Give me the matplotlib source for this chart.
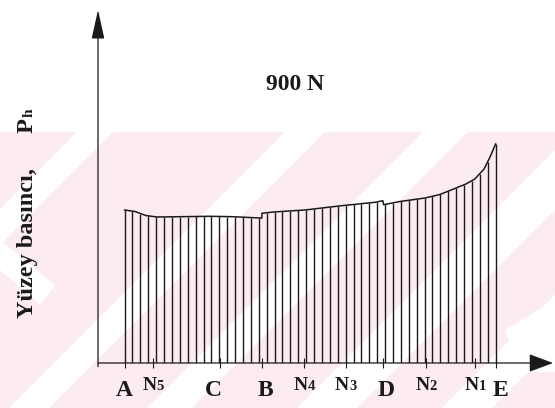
import numpy as np
import matplotlib
matplotlib.use("Agg")
import matplotlib.pyplot as plt
from matplotlib.patches import Polygon, Rectangle

# Positions along the contact (A = 0, E = 100) and labels of the marked points
point_labels = ["A", "N5", "C", "B", "N4", "N3", "D", "N2", "N1", "E"]
point_pos = [0.0, 7.65, 25.7, 37.1, 48.4, 59.6, 69.7, 81.2, 94.4, 100.0]

# Surface pressure profile (relative units) for the 900 N load
profile_x = [0.0, 2.8, 5.7, 8.7, 23.0, 29.2, 36.5, 37.0, 37.0, 40.1, 48.6, 58.5,
             67.5, 69.6, 69.8, 74.2, 81.0, 85.0, 89.0, 92.0, 94.4, 96.9, 98.5, 100.0]
profile_p = [153, 151.5, 147.5, 146, 146.7, 146.3, 145, 145, 149.7, 151, 153, 157.3,
             160.7, 162.3, 158.3, 161.5, 165, 168.5, 174.5, 179, 184, 194, 206, 219]

load_label = "900 N"
y_label = "Yüzey basıncı,"
p_symbol = "P"
p_sub = "h"

W, H = 555, 408
fig = plt.figure(figsize=(W / 100, H / 100), dpi=100)

# Faint diagonal background stripes
bg = fig.add_axes([0, 0, 1, 1], zorder=0)
bg.set_xlim(0, W)
bg.set_ylim(H, 0)
bg.axis("off")
pink = "#fcecef"
top = 132
bg.add_patch(Rectangle((0, top), W, H - top, color=pink, lw=0))
clip = Rectangle((0, top), W, H - top, transform=bg.transData)
for s0, s1 in [(209, 245), (417, 457), (555, 600), (705, 765), (850, 900)]:
    poly = Polygon([(s0 - top, top), (s1 - top, top), (s1 - H, H), (s0 - H, H)],
                   closed=True, color="white", lw=0)
    bg.add_patch(poly)
    poly.set_clip_path(clip)
# left chevron arm and lower-right notch
bg.add_patch(Polygon([(0, 240), (0, 270), (40, 305), (55, 285)], closed=True, color="white", lw=0))
bg.add_patch(Polygon([(505, 330), (555, 300), (555, 372), (520, 372)], closed=True, color="white", lw=0))

# Main axes: origin at (98, 363) px, x arrow tip at 553 px, y arrow tip at 10 px
scale = 3.71
x0px, y0px = 98, 363
ax = fig.add_axes([x0px / W, (H - y0px) / H, (553 - x0px) / W, (y0px - 10) / H], zorder=1)
ax.patch.set_alpha(0)
ax.set_xlim(-(124.6 - x0px) / scale, (553 - 124.6) / scale)
ax.set_ylim(0, y0px - 10)
for sp in ax.spines.values():
    sp.set_visible(False)
ax.set_yticks([])

ink = "#1a1a1a"
# axes with arrowheads
ax.annotate("", xy=(1, 0), xytext=(0, 0), xycoords="axes fraction",
            arrowprops=dict(arrowstyle="-|>,head_length=0.75,head_width=0.28",
                            mutation_scale=20, color=ink, lw=0.9, shrinkA=0, shrinkB=0))
ax.annotate("", xy=(0, 1), xytext=(0, -0.01), xycoords="axes fraction",
            arrowprops=dict(arrowstyle="-|>,head_length=0.9,head_width=0.2",
                            mutation_scale=20, color=ink, lw=0.9, shrinkA=0, shrinkB=0))

# pressure curve and vertical hatching beneath it
ax.plot(profile_x, profile_p, color=ink, lw=1.1, zorder=3)
xs = np.linspace(profile_x[0], profile_x[-1], 48)
ax.vlines(xs, 0, np.interp(xs, profile_x, profile_p), color=ink, lw=1.0, zorder=2)

ax.set_xticks(point_pos)
ax.set_xticklabels([])
ax.tick_params(axis="x", direction="inout", length=7, width=0.8, color=ink)

serif = "Liberation Serif"
label_dx = {"C": -7, "B": 3, "D": 3, "E": 5}
for lab, pos in zip(point_labels, point_pos):
    dx = label_dx.get(lab, 0) * 0.72
    if len(lab) == 1:
        ax.annotate(lab, (pos, 0), xytext=(dx, -24), textcoords="offset points",
                    ha="center", va="baseline", fontsize=17, fontweight="bold",
                    family=serif, color=ink)
    else:
        ax.annotate(lab[0], (pos, 0), xytext=(dx + 2.5, -19.4), textcoords="offset points",
                    ha="right", va="baseline", fontsize=14, fontweight="bold",
                    family=serif, color=ink)
        ax.annotate(lab[1], (pos, 0), xytext=(dx + 2.5, -19.4), textcoords="offset points",
                    ha="left", va="baseline", fontsize=10.5, fontweight="bold",
                    family=serif, color=ink)

# load label
fig.text(295 / W, 1 - 85 / H, load_label, ha="center", va="center", fontsize=17,
         fontweight="bold", family=serif, color=ink)

# rotated y-axis label
fig.text(33 / W, 1 - 318 / H, y_label, rotation=90, rotation_mode="anchor",
         ha="left", va="baseline", fontsize=17.5, fontweight="bold", family=serif, color=ink)
fig.text(33 / W, 1 - 133 / H, p_symbol, rotation=90, rotation_mode="anchor",
         ha="left", va="baseline", fontsize=17.5, fontweight="bold", family=serif, color=ink)
fig.text(33 / W, 1 - 117 / H, p_sub, rotation=90, rotation_mode="anchor",
         ha="left", va="baseline", fontsize=11, fontweight="bold", family=serif, color=ink)

fig.savefig("out.png", dpi=100)
